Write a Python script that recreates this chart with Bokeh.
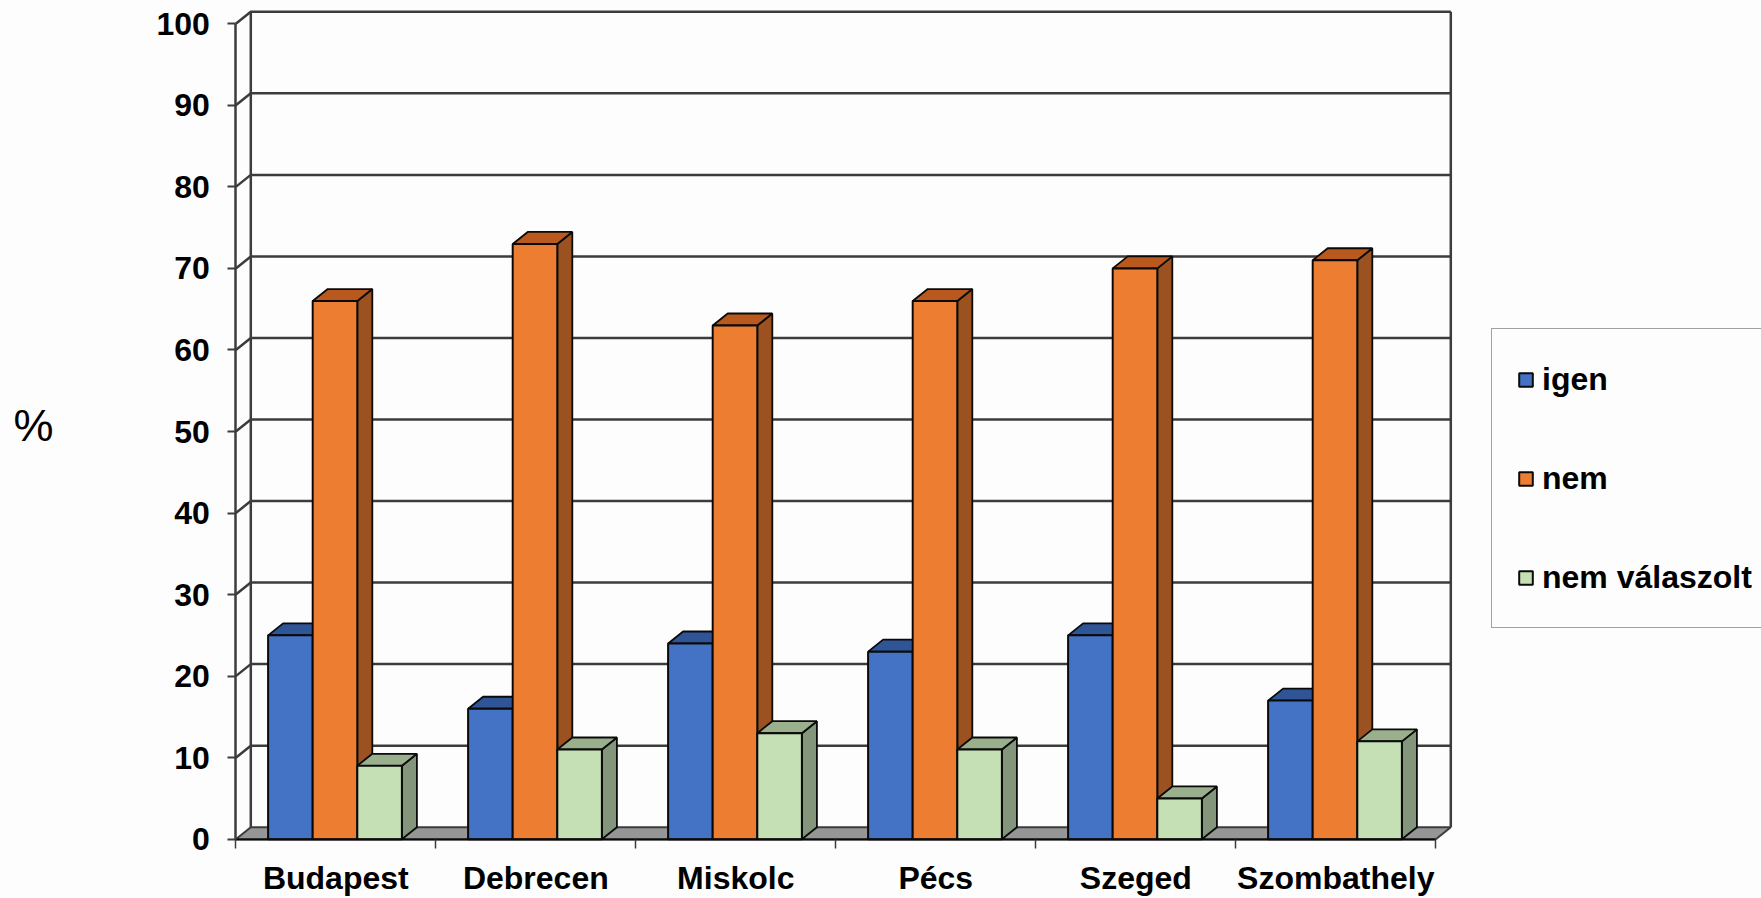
from bokeh.embed import file_html
from bokeh.models import FixedTicker, Label, Legend, LegendItem, Range1d
from bokeh.plotting import figure
from bokeh.resources import INLINE

categories = ["Budapest", "Debrecen", "Miskolc", "Pécs", "Szeged", "Szombathely"]
igen = [25, 16, 24, 23, 25, 17]
nem = [66, 73, 63, 66, 70, 71]
nem_valaszolt = [9, 11, 13, 11, 5, 12]
y_ticks = [0, 10, 20, 30, 40, 50, 60, 70, 80, 90, 100]

series = [
    ("igen", igen, "#4472C4", "#2F5597", "#2F5597"),
    ("nem", nem, "#ED7D31", "#B9591E", "#9C5220"),
    ("nem válaszolt", nem_valaszolt, "#C5E0B4", "#9AAF8C", "#83957B"),
]

W, H = 1761, 898
STEP_PX = 200.0          # pixels per category slot
UNIT_PX = 8.154          # pixels per percentage point
X_ZERO_PX = 235.3        # canvas position of the first category boundary
Y_ZERO_PX = 838.7        # canvas position of 0 %
DX = 15 / STEP_PX        # oblique depth, horizontal part, in category units
DY = 12 / UNIT_PX        # oblique depth, vertical part, in percent
BAR = 44.6 / STEP_PX     # bar width in category units
BAR_OFFSET = 32.3 / STEP_PX
INK = "#0A0A0A"
AXIS = "#3C3C3C"
BG = "#FDFDFD"
FONT = "Liberation Sans"

# The frame fills the page; both axes are pinned at the data origin.
p = figure(
    width=W, height=H, output_backend="svg", toolbar_location=None,
    x_range=Range1d(-X_ZERO_PX / STEP_PX, (W - X_ZERO_PX) / STEP_PX),
    y_range=Range1d(-(H - Y_ZERO_PX) / UNIT_PX, Y_ZERO_PX / UNIT_PX),
    min_border_left=0, min_border_bottom=0, min_border_top=0, min_border_right=0,
    background_fill_color=BG, border_fill_color=BG, outline_line_color=None,
)
p.grid.visible = False

n = len(categories)
x_end = float(n)

# floor of the oblique box
p.patch([0, x_end, x_end + DX, DX], [0, 0, DY, DY],
        fill_color="#969696", line_color=AXIS, line_width=2)

# back wall: one bent gridline per tick plus the two uprights
wall_xs, wall_ys = [], []
for t in y_ticks[1:]:
    wall_xs.append([0, DX, x_end + DX])
    wall_ys.append([t, t + DY, t + DY])
wall_xs += [[DX, DX], [x_end + DX, x_end + DX]]
wall_ys += [[DY, 100 + DY], [DY, 100 + DY]]
p.multi_line(wall_xs, wall_ys, line_color=AXIS, line_width=2.5)

# bars, left to right so each front covers its neighbour's side
legend_items = []
for i in range(n):
    for s, (name, values, front, top, side) in enumerate(series):
        v = values[i]
        x0 = i + BAR_OFFSET + s * BAR
        x1 = x0 + BAR
        p.patch([x1, x1 + DX, x1 + DX, x1], [0, DY, v + DY, v],
                fill_color=side, line_color=INK, line_width=1.8)
        p.patch([x0, x0 + DX, x1 + DX, x1], [v, v + DY, v + DY, v],
                fill_color=top, line_color=INK, line_width=1.8)
        r = p.quad(left=x0, right=x1, bottom=0, top=v,
                   fill_color=front, line_color=INK, line_width=2)
        if i == 0:
            legend_items.append(LegendItem(label=name, renderers=[r]))

# axes
p.yaxis.fixed_location = 0
p.yaxis.ticker = FixedTicker(ticks=y_ticks)
p.yaxis.bounds = (0, 100)
p.yaxis.axis_line_color = AXIS
p.yaxis.axis_line_width = 2.5
p.yaxis.major_tick_line_color = AXIS
p.yaxis.major_tick_line_width = 2
p.yaxis.major_tick_in = 0
p.yaxis.major_tick_out = 8
p.yaxis.minor_tick_line_color = None
p.yaxis.major_label_standoff = 18
p.yaxis.major_label_text_font = FONT
p.yaxis.major_label_text_font_style = "bold"
p.yaxis.major_label_text_font_size = "32px"
p.yaxis.major_label_text_color = "#000000"

centers = [i + 0.5 for i in range(n)]
p.xaxis.fixed_location = 0
p.xaxis.ticker = FixedTicker(ticks=centers, minor_ticks=list(range(n + 1)))
p.xaxis.major_label_overrides = dict(zip(centers, categories))
p.xaxis.bounds = (0, x_end)
p.xaxis.axis_line_color = INK
p.xaxis.axis_line_width = 2
p.xaxis.major_tick_line_color = None
p.xaxis.minor_tick_line_color = AXIS
p.xaxis.minor_tick_line_width = 1.5
p.xaxis.minor_tick_in = 0
p.xaxis.minor_tick_out = 9
p.xaxis.major_label_standoff = 12
p.xaxis.major_label_text_font = FONT
p.xaxis.major_label_text_font_style = "bold"
p.xaxis.major_label_text_font_size = "32px"
p.xaxis.major_label_text_color = "#000000"

legend = Legend(
    items=legend_items, location=(1491, H - 628),
    margin=0, padding=25, spacing=49, label_height=50,
    glyph_width=17, glyph_height=17, label_standoff=8,
    label_text_font=FONT, label_text_font_style="bold",
    label_text_font_size="32px", label_text_color="#000000",
    border_line_color="#444444", border_line_width=1.5,
    background_fill_color=BG, background_fill_alpha=1,
)
p.add_layout(legend)

p.add_layout(Label(x=33, y=H - 425, x_units="screen", y_units="screen", text="%",
                   text_font=FONT, text_font_size="45px", text_color="#000000",
                   text_align="center", text_baseline="middle"))

open("out.html", "w").write(file_html(p, INLINE))
